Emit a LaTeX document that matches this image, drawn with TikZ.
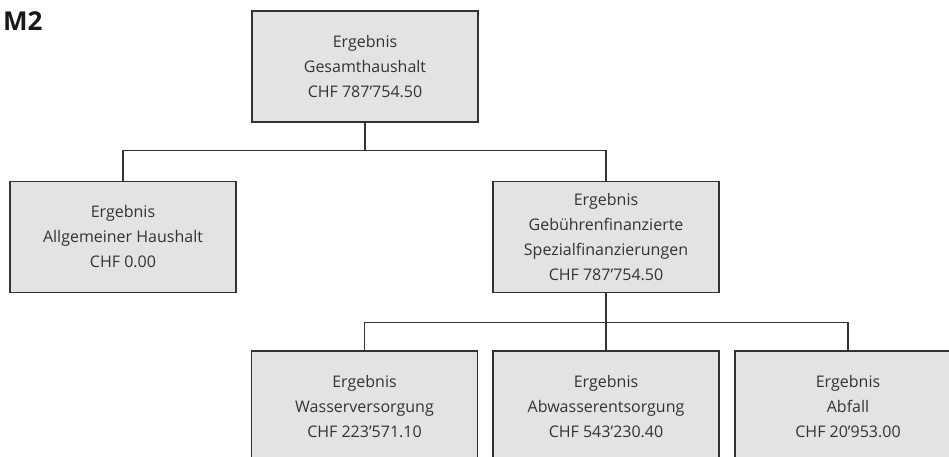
\documentclass[tikz,border=0pt]{standalone}
\usepackage{fontspec}
\setmainfont{Open Sans}
\usepackage{tikz}
\usetikzlibrary{calc}

\definecolor{boxgray}{HTML}{E3E3E3}
\definecolor{linegray}{HTML}{333333}

\tikzset{
  result/.style={draw=linegray,line width=1.4pt,fill=boxgray,minimum width=226pt,minimum height=111pt,
    align=center,text=linegray,inner sep=0pt,font=\fontsize{16}{25}\selectfont},
  link/.style={draw=linegray,line width=1.2pt}
}

\begin{document}
\begin{tikzpicture}[x=1pt,y=-1pt]
\useasboundingbox (0,0) rectangle (949,456);
\clip (0,0) rectangle (949,456);
\node (title) [anchor=north west,inner sep=0pt,font=\fontsize{26}{26}\bfseries\selectfont,text=black!90] at (3,11) {M2};
% top level
\node (gesamt) [result] at (365,66.5) {Ergebnis\\Gesamthaushalt\\CHF 787’754.50};
\node (allg) [result] at (123,237) {Ergebnis\\Allgemeiner Haushalt\\CHF 0.00};
\node (spez) [result] at (606,237) {Ergebnis\\Gebührenfinanzierte\\Spezialfinanzierungen\\CHF 787’754.50};
% third level
\node (wasser) [result] at (364.5,406.5) {Ergebnis\\Wasserversorgung\\CHF 223’571.10};
\node (abwasser) [result] at (606,406.5) {Ergebnis\\Abwasserentsorgung\\CHF 543’230.40};
\node (abfall) [result] at (848,406.5) {Ergebnis\\Abfall\\CHF 20’953.00};
% connectors
\draw[link] (gesamt.south) -- ++(0,28) -| (allg.north);
\draw[link] (gesamt.south) -- ++(0,28) -| (spez.north);
\draw[link] (spez.south) -- (abwasser.north);
\draw[link] (spez.south) -- ++(0,29) -| (wasser.north);
\draw[link] (spez.south) -- ++(0,29) -| (abfall.north);
\end{tikzpicture}
\end{document}
